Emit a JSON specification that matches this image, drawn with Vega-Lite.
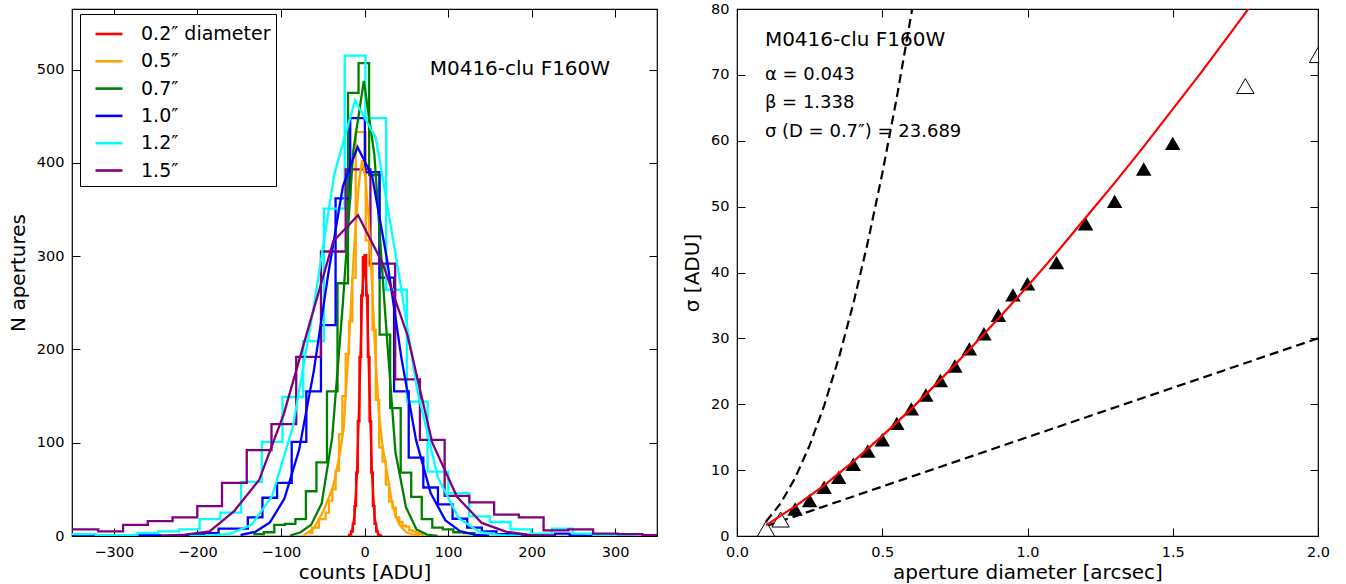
{
  "$schema": "https://vega.github.io/schema/vega-lite/v6.json",
  "padding": {"left": 7, "top": 0, "right": 8, "bottom": 0},
  "spacing": 22,
  "background": "white",
  "config": {
    "font": "DejaVu Sans",
    "view": {"stroke": "black", "strokeWidth": 1.2},
    "axis": {
      "grid": false, "domain": false, "ticks": true, "tickSize": -8, "tickColor": "black", "tickWidth": 1,
      "labelFontSize": 14.5, "labelColor": "black", "labelFont": "DejaVu Sans", "labelFlush": false, "labelOverlap": false,
      "labelPadding": 8, "titleFont": "DejaVu Sans", "titleFontSize": 20, "titleFontWeight": "normal", "titleColor": "black", "titlePadding": 4
    },
    "axisX": {"labelPadding": 17, "titlePadding": 4},
    "axisY": {"labelPadding": 16, "titlePadding": 8}
  },
  "datasets": {
    "hist": [
      {"d":"0.2","x":-20,"y":0.4},{"d":"0.2","x":-18,"y":1.5},{"d":"0.2","x":-16,"y":4.8},{"d":"0.2","x":-14,"y":13},{"d":"0.2","x":-12,"y":32},{"d":"0.2","x":-10,"y":68},{"d":"0.2","x":-8,"y":123},{"d":"0.2","x":-6,"y":192},{"d":"0.2","x":-4,"y":258},{"d":"0.2","x":-2,"y":299},{"d":"0.2","x":0,"y":301},{"d":"0.2","x":2,"y":258},{"d":"0.2","x":4,"y":192},{"d":"0.2","x":6,"y":123},{"d":"0.2","x":8,"y":68},{"d":"0.2","x":10,"y":32},{"d":"0.2","x":12,"y":13},{"d":"0.2","x":14,"y":4.8},{"d":"0.2","x":16,"y":1.5},{"d":"0.2","x":18,"y":0.4},{"d":"0.2","x":20,"y":0},
      {"d":"0.5","x":-66.5,"y":3},{"d":"0.5","x":-62.5,"y":9},{"d":"0.5","x":-58.5,"y":9},{"d":"0.5","x":-54.5,"y":18},{"d":"0.5","x":-50.5,"y":18},{"d":"0.5","x":-46.5,"y":25},{"d":"0.5","x":-42.5,"y":38},{"d":"0.5","x":-38.5,"y":50},{"d":"0.5","x":-34.5,"y":70},{"d":"0.5","x":-30.5,"y":109},{"d":"0.5","x":-26.5,"y":150},{"d":"0.5","x":-22.5,"y":195},{"d":"0.5","x":-18.5,"y":230},{"d":"0.5","x":-14.5,"y":277},{"d":"0.5","x":-10.5,"y":433},{"d":"0.5","x":-6.5,"y":433},{"d":"0.5","x":-2.5,"y":433},{"d":"0.5","x":1.5,"y":317},{"d":"0.5","x":5.5,"y":290},{"d":"0.5","x":9.5,"y":221},{"d":"0.5","x":13.5,"y":146},{"d":"0.5","x":17.5,"y":95},{"d":"0.5","x":21.5,"y":80},{"d":"0.5","x":25.5,"y":55},{"d":"0.5","x":29.5,"y":37},{"d":"0.5","x":33.5,"y":30},{"d":"0.5","x":37.5,"y":20},{"d":"0.5","x":41.5,"y":15},{"d":"0.5","x":45.5,"y":11},{"d":"0.5","x":49.5,"y":10},{"d":"0.5","x":53.5,"y":6},{"d":"0.5","x":57.5,"y":5},{"d":"0.5","x":61.5,"y":3},{"d":"0.5","x":65.5,"y":2},{"d":"0.5","x":69.5,"y":0},
      {"d":"0.7","x":-133.1,"y":2},{"d":"0.7","x":-120.5,"y":4},{"d":"0.7","x":-107.9,"y":12},{"d":"0.7","x":-95.3,"y":13},{"d":"0.7","x":-82.7,"y":18},{"d":"0.7","x":-70.1,"y":48},{"d":"0.7","x":-57.5,"y":79},{"d":"0.7","x":-44.9,"y":155},{"d":"0.7","x":-32.3,"y":271},{"d":"0.7","x":-19.7,"y":475},{"d":"0.7","x":-7.1,"y":507},{"d":"0.7","x":5.5,"y":387},{"d":"0.7","x":18.1,"y":216},{"d":"0.7","x":30.7,"y":137},{"d":"0.7","x":43.3,"y":68},{"d":"0.7","x":55.9,"y":42},{"d":"0.7","x":68.5,"y":18},{"d":"0.7","x":81.1,"y":9},{"d":"0.7","x":93.7,"y":7},{"d":"0.7","x":106.3,"y":4},{"d":"0.7","x":118.9,"y":3},{"d":"0.7","x":131.5,"y":0},
      {"d":"1.0","x":-349.6,"y":1},{"d":"1.0","x":-332.1,"y":0.5},{"d":"1.0","x":-314.6,"y":1},{"d":"1.0","x":-297.1,"y":0.5},{"d":"1.0","x":-279.6,"y":1},{"d":"1.0","x":-262.1,"y":1},{"d":"1.0","x":-244.6,"y":0.5},{"d":"1.0","x":-227.1,"y":1},{"d":"1.0","x":-209.6,"y":2},{"d":"1.0","x":-192.1,"y":3},{"d":"1.0","x":-174.6,"y":8},{"d":"1.0","x":-157.1,"y":8},{"d":"1.0","x":-139.6,"y":20},{"d":"1.0","x":-122.1,"y":41},{"d":"1.0","x":-104.6,"y":57},{"d":"1.0","x":-87.1,"y":101},{"d":"1.0","x":-69.6,"y":155},{"d":"1.0","x":-52.1,"y":226},{"d":"1.0","x":-34.6,"y":362},{"d":"1.0","x":-17.1,"y":448},{"d":"1.0","x":0.4,"y":390},{"d":"1.0","x":17.9,"y":277},{"d":"1.0","x":35.4,"y":155},{"d":"1.0","x":52.9,"y":84},{"d":"1.0","x":70.4,"y":52},{"d":"1.0","x":87.9,"y":34},{"d":"1.0","x":105.4,"y":18.5},{"d":"1.0","x":122.9,"y":9},{"d":"1.0","x":140.4,"y":5},{"d":"1.0","x":157.9,"y":2},{"d":"1.0","x":175.4,"y":1.5},{"d":"1.0","x":192.9,"y":1},{"d":"1.0","x":210.4,"y":1},{"d":"1.0","x":227.9,"y":2.5},{"d":"1.0","x":245.4,"y":1},{"d":"1.0","x":262.9,"y":0.5},{"d":"1.0","x":280.4,"y":0},
      {"d":"1.2","x":-370.9,"y":2},{"d":"1.2","x":-346.1,"y":2},{"d":"1.2","x":-321.3,"y":1},{"d":"1.2","x":-296.5,"y":1},{"d":"1.2","x":-271.7,"y":3},{"d":"1.2","x":-246.9,"y":5},{"d":"1.2","x":-222.1,"y":7},{"d":"1.2","x":-197.3,"y":18},{"d":"1.2","x":-172.5,"y":25},{"d":"1.2","x":-147.7,"y":58},{"d":"1.2","x":-122.9,"y":101},{"d":"1.2","x":-98.1,"y":149},{"d":"1.2","x":-73.3,"y":209},{"d":"1.2","x":-48.5,"y":351},{"d":"1.2","x":-23.7,"y":515},{"d":"1.2","x":1.1,"y":448},{"d":"1.2","x":25.9,"y":264},{"d":"1.2","x":50.7,"y":144},{"d":"1.2","x":75.5,"y":69},{"d":"1.2","x":100.3,"y":46},{"d":"1.2","x":125.1,"y":21},{"d":"1.2","x":149.9,"y":15},{"d":"1.2","x":174.7,"y":7},{"d":"1.2","x":199.5,"y":2.5},{"d":"1.2","x":224.3,"y":8},{"d":"1.2","x":249.1,"y":2.5},{"d":"1.2","x":273.9,"y":1},{"d":"1.2","x":298.7,"y":1},{"d":"1.2","x":323.5,"y":0},
      {"d":"1.5","x":-377.7,"y":7},{"d":"1.5","x":-348.1,"y":7},{"d":"1.5","x":-318.5,"y":5},{"d":"1.5","x":-288.9,"y":12},{"d":"1.5","x":-259.3,"y":16},{"d":"1.5","x":-229.7,"y":20},{"d":"1.5","x":-200.1,"y":32},{"d":"1.5","x":-170.5,"y":57},{"d":"1.5","x":-140.9,"y":92},{"d":"1.5","x":-111.3,"y":120},{"d":"1.5","x":-81.7,"y":192},{"d":"1.5","x":-52.1,"y":305},{"d":"1.5","x":-22.5,"y":393},{"d":"1.5","x":7.1,"y":292},{"d":"1.5","x":36.7,"y":168},{"d":"1.5","x":66.3,"y":103},{"d":"1.5","x":95.9,"y":43},{"d":"1.5","x":125.5,"y":36},{"d":"1.5","x":155.1,"y":23},{"d":"1.5","x":184.7,"y":20},{"d":"1.5","x":214.3,"y":6},{"d":"1.5","x":243.9,"y":7},{"d":"1.5","x":273.5,"y":2.5},{"d":"1.5","x":303.1,"y":2},{"d":"1.5","x":332.7,"y":1},{"d":"1.5","x":362.3,"y":1}
    ],
    "fit": [
      {"d":"0.2","x":-15,"y":4.7},{"d":"0.2","x":-12,"y":21},{"d":"0.2","x":-9,"y":67},{"d":"0.2","x":-6,"y":154},{"d":"0.2","x":-3,"y":254},{"d":"0.2","x":0,"y":300},{"d":"0.2","x":3,"y":254},{"d":"0.2","x":6,"y":154},{"d":"0.2","x":9,"y":67},{"d":"0.2","x":12,"y":21},{"d":"0.2","x":15,"y":4.7},
      {"d":"0.5","x":-73,"y":0.5},{"d":"0.5","x":-61,"y":8},{"d":"0.5","x":-49,"y":27},{"d":"0.5","x":-41,"y":45},{"d":"0.5","x":-37,"y":55},{"d":"0.5","x":-29,"y":91},{"d":"0.5","x":-25,"y":115},{"d":"0.5","x":-19,"y":200},{"d":"0.5","x":-13,"y":300},{"d":"0.5","x":-7,"y":375},{"d":"0.5","x":-3,"y":403},{"d":"0.5","x":1,"y":385},{"d":"0.5","x":5,"y":340},{"d":"0.5","x":9,"y":270},{"d":"0.5","x":13,"y":195},{"d":"0.5","x":17,"y":135},{"d":"0.5","x":21,"y":100},{"d":"0.5","x":26,"y":73},{"d":"0.5","x":32,"y":40},{"d":"0.5","x":37,"y":22},{"d":"0.5","x":42,"y":12},{"d":"0.5","x":50,"y":4},{"d":"0.5","x":58,"y":1.5},{"d":"0.5","x":66,"y":0.5},
      {"d":"0.7","x":-89,"y":0.5},{"d":"0.7","x":-76.4,"y":4},{"d":"0.7","x":-63.8,"y":12},{"d":"0.7","x":-51.2,"y":35},{"d":"0.7","x":-38.6,"y":106},{"d":"0.7","x":-26,"y":248},{"d":"0.7","x":-13.4,"y":413},{"d":"0.7","x":-0.8,"y":488},{"d":"0.7","x":11.8,"y":409},{"d":"0.7","x":24.4,"y":243},{"d":"0.7","x":37,"y":90},{"d":"0.7","x":49.6,"y":31},{"d":"0.7","x":62.2,"y":7},{"d":"0.7","x":74.8,"y":1.5},{"d":"0.7","x":87.4,"y":0.2},
      {"d":"1.0","x":-148.35,"y":1.1},{"d":"1.0","x":-130.85,"y":4.3},{"d":"1.0","x":-113.35,"y":14.4},{"d":"1.0","x":-95.85,"y":40},{"d":"1.0","x":-78.35,"y":92},{"d":"1.0","x":-60.85,"y":176},{"d":"1.0","x":-43.35,"y":281},{"d":"1.0","x":-25.85,"y":375},{"d":"1.0","x":-8.35,"y":417},{"d":"1.0","x":9.15,"y":386},{"d":"1.0","x":26.65,"y":298},{"d":"1.0","x":44.15,"y":191},{"d":"1.0","x":61.65,"y":103},{"d":"1.0","x":79.15,"y":46},{"d":"1.0","x":96.65,"y":17},{"d":"1.0","x":114.15,"y":5.3},{"d":"1.0","x":131.65,"y":1.4},{"d":"1.0","x":149.15,"y":0.3},
      {"d":"1.2","x":-209.7,"y":0.1},{"d":"1.2","x":-184.9,"y":0.4},{"d":"1.2","x":-160.1,"y":2.5},{"d":"1.2","x":-135.3,"y":11.9},{"d":"1.2","x":-110.5,"y":42.8},{"d":"1.2","x":-85.7,"y":117.5},{"d":"1.2","x":-60.9,"y":245},{"d":"1.2","x":-36.1,"y":388},{"d":"1.2","x":-11.3,"y":467},{"d":"1.2","x":13.5,"y":427},{"d":"1.2","x":38.3,"y":296.5},{"d":"1.2","x":63.1,"y":156.4},{"d":"1.2","x":87.9,"y":62.7},{"d":"1.2","x":112.7,"y":19.1},{"d":"1.2","x":137.5,"y":4.4},{"d":"1.2","x":162.3,"y":0.8},{"d":"1.2","x":187.1,"y":0.1},
      {"d":"1.5","x":-244.5,"y":0.2},{"d":"1.5","x":-214.9,"y":1.5},{"d":"1.5","x":-185.3,"y":5},{"d":"1.5","x":-155.7,"y":27},{"d":"1.5","x":-126.1,"y":60},{"d":"1.5","x":-96.5,"y":131},{"d":"1.5","x":-66.9,"y":224},{"d":"1.5","x":-37.3,"y":316},{"d":"1.5","x":-7.7,"y":344},{"d":"1.5","x":21.9,"y":292},{"d":"1.5","x":51.5,"y":215},{"d":"1.5","x":81.1,"y":100},{"d":"1.5","x":110.7,"y":42},{"d":"1.5","x":140.3,"y":14},{"d":"1.5","x":169.9,"y":4.5},{"d":"1.5","x":199.5,"y":1},{"d":"1.5","x":229.1,"y":0.3}
    ],
    "upper": [{"x":0.1,"y":2.2},{"x":0.15,"y":4.95},{"x":0.2,"y":8.8},{"x":0.25,"y":13.75},{"x":0.3,"y":19.8},{"x":0.35,"y":26.95},{"x":0.4,"y":35.2},{"x":0.45,"y":44.55},{"x":0.5,"y":55},{"x":0.55,"y":66.55},{"x":0.603,"y":80}],
    "lower": [{"x":0.1,"y":1.5},{"x":2.0,"y":30}],
    "filled": [{"x":0.2,"y":4.1},{"x":0.25,"y":5.4},{"x":0.3,"y":7.4},{"x":0.35,"y":8.9},{"x":0.4,"y":10.9},{"x":0.45,"y":12.9},{"x":0.5,"y":14.6},{"x":0.55,"y":17.1},{"x":0.6,"y":19.3},{"x":0.65,"y":21.4},{"x":0.7,"y":23.6},{"x":0.75,"y":25.8},{"x":0.8,"y":28.4},{"x":0.85,"y":30.7},{"x":0.9,"y":33.5},{"x":0.95,"y":36.6},{"x":1.0,"y":38.3},{"x":1.1,"y":41.5},{"x":1.2,"y":47.4},{"x":1.3,"y":50.8},{"x":1.4,"y":55.7},{"x":1.5,"y":59.6}],
    "open": [{"x":0.1,"y":1.1},{"x":0.15,"y":2.5},{"x":1.75,"y":68.3},{"x":2.0,"y":73}],
    "model": [{"x":0.1,"y":1.6},{"x":0.15,"y":3.1},{"x":0.2,"y":4.5},{"x":0.3,"y":7.7},{"x":0.4,"y":11.3},{"x":0.5,"y":15.2},{"x":0.6,"y":19.3},{"x":0.7,"y":23.7},{"x":0.8,"y":28.3},{"x":0.9,"y":33},{"x":1.0,"y":37.9},{"x":1.1,"y":43},{"x":1.2,"y":48.3},{"x":1.3,"y":53.6},{"x":1.4,"y":59.1},{"x":1.5,"y":64.8},{"x":1.6,"y":70.5},{"x":1.7,"y":76.4},{"x":1.765,"y":80.3}]
  },
  "hconcat": [
    {
      "width": 585, "height": 527,
      "resolve": {"axis": {"x": "independent", "y": "independent"}},
      "layer": [
        {
          "data": {"name": "hist"},
          "mark": {"type": "line", "interpolate": "step-after", "strokeWidth": 2.3, "clip": true},
          "encoding": {
            "x": {"field": "x", "type": "quantitative", "scale": {"domain": [-350, 350], "nice": false, "zero": false}, "axis": {"title": "counts [ADU]", "values": [-300, -200, -100, 0, 100, 200, 300]}},
            "y": {"field": "y", "type": "quantitative", "scale": {"domain": [0, 565], "nice": false}, "axis": {"title": "N apertures", "values": [0, 100, 200, 300, 400, 500]}},
            "color": {"field": "d", "type": "nominal",
              "scale": {"domain": ["0.2", "0.5", "0.7", "1.0", "1.2", "1.5"], "range": ["#ff0000", "#ffa500", "#008000", "#0000ff", "#00ffff", "#800080"]},
              "legend": {"orient": "none", "legendX": 8, "legendY": 5, "title": null, "symbolType": "stroke", "symbolSize": 729, "symbolStrokeWidth": 2.6,
                "labelFontSize": 19, "labelColor": "black", "labelFont": "DejaVu Sans", "labelExpr": "datum.label == '0.2' ? '0.2″ diameter' : datum.label + '″'",
                "strokeColor": "black", "fillColor": "white", "padding": 5, "rowPadding": 2.3, "symbolOffset": 9, "labelOffset": 17, "direction": "vertical"}}
          }
        },
        {
          "data": {"name": "fit"},
          "mark": {"type": "line", "strokeWidth": 2.3, "clip": true},
          "encoding": {
            "x": {"field": "x", "type": "quantitative", "scale": {"domain": [-350, 350], "nice": false, "zero": false}, "axis": {"orient": "top", "labels": false, "title": null, "values": [-300, -200, -100, 0, 100, 200, 300]}},
            "y": {"field": "y", "type": "quantitative", "scale": {"domain": [0, 565], "nice": false}, "axis": {"orient": "right", "labels": false, "title": null, "values": [0, 100, 200, 300, 400, 500]}},
            "color": {"field": "d", "type": "nominal", "scale": {"domain": ["0.2", "0.5", "0.7", "1.0", "1.2", "1.5"], "range": ["#ff0000", "#ffa500", "#008000", "#0000ff", "#00ffff", "#800080"]}}
          }
        },
        {
          "data": {"values": [{}]},
          "mark": {"type": "text", "align": "left", "baseline": "middle", "fontSize": 20, "font": "DejaVu Sans", "color": "black"},
          "encoding": {
            "x": {"datum": 78, "type": "quantitative", "axis": null},
            "y": {"datum": 501, "type": "quantitative", "axis": null},
            "text": {"value": "M0416-clu F160W"}
          }
        }
      ]
    },
    {
      "width": 581, "height": 527,
      "resolve": {"axis": {"x": "independent", "y": "independent"}},
      "layer": [
        {
          "data": {"name": "lower"},
          "mark": {"type": "line", "color": "black", "strokeWidth": 2.2, "strokeDash": [9, 5], "clip": true},
          "encoding": {
            "x": {"field": "x", "type": "quantitative", "scale": {"domain": [0, 2], "nice": false}, "axis": {"title": "aperture diameter [arcsec]", "values": [0, 0.5, 1, 1.5, 2], "format": ".1f"}},
            "y": {"field": "y", "type": "quantitative", "scale": {"domain": [0, 80], "nice": false}, "axis": {"title": "σ [ADU]", "values": [0, 10, 20, 30, 40, 50, 60, 70, 80]}}
          }
        },
        {
          "data": {"name": "upper"},
          "mark": {"type": "line", "color": "black", "strokeWidth": 2.2, "strokeDash": [9, 5], "clip": true},
          "encoding": {
            "x": {"field": "x", "type": "quantitative", "scale": {"domain": [0, 2], "nice": false}, "axis": {"orient": "top", "labels": false, "title": null, "values": [0, 0.5, 1, 1.5, 2]}},
            "y": {"field": "y", "type": "quantitative", "scale": {"domain": [0, 80], "nice": false}, "axis": {"orient": "right", "labels": false, "title": null, "values": [0, 10, 20, 30, 40, 50, 60, 70, 80]}}
          }
        },
        {
          "data": {"name": "filled"},
          "mark": {"type": "point", "shape": "triangle-up", "filled": true, "color": "black", "size": 240, "opacity": 1, "clip": true},
          "encoding": {
            "x": {"field": "x", "type": "quantitative", "scale": {"domain": [0, 2], "nice": false}, "axis": null},
            "y": {"field": "y", "type": "quantitative", "scale": {"domain": [0, 80], "nice": false}, "axis": null}
          }
        },
        {
          "data": {"name": "open"},
          "mark": {"type": "point", "shape": "triangle-up", "filled": false, "fill": "white", "fillOpacity": 1, "stroke": "black", "strokeWidth": 1, "size": 300, "opacity": 1, "clip": true},
          "encoding": {
            "x": {"field": "x", "type": "quantitative", "scale": {"domain": [0, 2], "nice": false}, "axis": null},
            "y": {"field": "y", "type": "quantitative", "scale": {"domain": [0, 80], "nice": false}, "axis": null}
          }
        },
        {
          "data": {"name": "model"},
          "mark": {"type": "line", "color": "#ff0000", "strokeWidth": 2.2, "clip": true},
          "encoding": {
            "x": {"field": "x", "type": "quantitative", "scale": {"domain": [0, 2], "nice": false}, "axis": null},
            "y": {"field": "y", "type": "quantitative", "scale": {"domain": [0, 80], "nice": false}, "axis": null}
          }
        },
        {
          "data": {"values": [
            {"tx": 0.096, "ty": 75.3, "t": "M0416-clu F160W", "fs": 20},
            {"tx": 0.096, "ty": 70.0, "t": "α = 0.043", "fs": 18},
            {"tx": 0.096, "ty": 65.7, "t": "β = 1.338", "fs": 18},
            {"tx": 0.096, "ty": 61.4, "t": "σ (D = 0.7″) = 23.689", "fs": 18}
          ]},
          "mark": {"type": "text", "align": "left", "baseline": "middle", "font": "DejaVu Sans", "color": "black"},
          "encoding": {
            "x": {"field": "tx", "type": "quantitative", "scale": {"domain": [0, 2], "nice": false}, "axis": null},
            "y": {"field": "ty", "type": "quantitative", "scale": {"domain": [0, 80], "nice": false}, "axis": null},
            "text": {"field": "t"},
            "size": {"field": "fs", "type": "quantitative", "scale": null, "legend": null}
          }
        }
      ]
    }
  ]
}
